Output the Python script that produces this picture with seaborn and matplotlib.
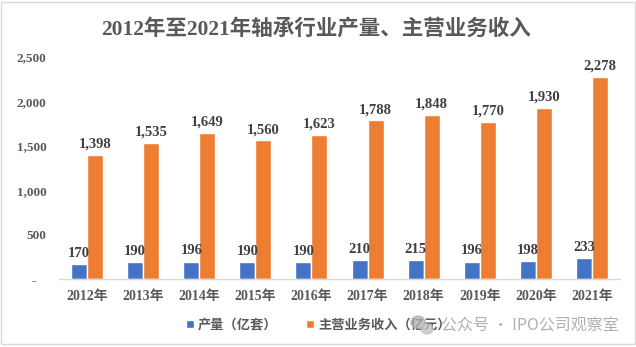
import matplotlib
matplotlib.use("Agg")
import matplotlib.pyplot as plt
import matplotlib.ticker as mticker
from matplotlib.patches import Rectangle, Ellipse
import numpy as np
import pandas as pd
import seaborn as sns

years = ["2012年", "2013年", "2014年", "2015年", "2016年",
         "2017年", "2018年", "2019年", "2020年", "2021年"]
output_vol = [170, 190, 196, 190, 190, 210, 215, 196, 198, 233]        # 产量（亿套）
revenue = [1398, 1535, 1649, 1560, 1623, 1788, 1848, 1770, 1930, 2278]  # 主营业务收入（亿元）
series_names = ["产量（亿套）", "主营业务收入（亿元）"]
colors = ["#4472C4", "#ED7D31"]
title = "2012年至2021年轴承行业产量、主营业务收入"
watermark = "公众号 · IPO公司观察室"

df = pd.DataFrame({
    "year": years * 2,
    "value": output_vol + revenue,
    "series": [series_names[0]] * len(years) + [series_names[1]] * len(years),
})

sns.set_theme(style="white")
plt.rcParams["font.family"] = ["Liberation Serif", "Noto Sans CJK SC"]
plt.rcParams["font.weight"] = "bold"
text_color = "#595959"

fig = plt.figure(figsize=(6.36, 3.47), dpi=100)
fig.patch.set_facecolor("white")
ax = fig.add_axes([59 / 636, 1 - 279 / 347, (620 - 59) / 636, (279 - 57) / 347])

sns.barplot(data=df, x="year", y="value", hue="series", palette=colors,
            width=32 / 56, saturation=1, ax=ax, legend=True)

for cont in ax.containers:
    ax.bar_label(cont, labels=[f"{v:,.0f}" for v in cont.datavalues], padding=3,
                 fontsize=10.5, fontweight="bold", color="#404040")

ax.set_ylim(0, 2500)
ax.set_xlim(-0.5, len(years) - 0.5)
ax.yaxis.set_major_locator(mticker.MultipleLocator(500))
ax.yaxis.set_major_formatter(mticker.FuncFormatter(
    lambda v, p: "-   " if v == 0 else f"{v:,.0f}"))
ax.set_xlabel("")
ax.set_ylabel("")

for s in ["top", "right", "left"]:
    ax.spines[s].set_visible(False)
ax.spines["bottom"].set_color("#d9d9d9")
ax.spines["bottom"].set_linewidth(1)

ax.set_xticks(np.arange(-0.5, len(years)), minor=True)
ax.tick_params(axis="x", which="major", length=0, pad=8, labelsize=10, labelcolor=text_color)
ax.tick_params(axis="x", which="minor", length=5, color="#d9d9d9", width=1, direction="out")
ax.tick_params(axis="y", length=0, pad=9, labelsize=9.5, labelcolor=text_color)
for lbl in ax.get_xticklabels() + ax.get_yticklabels():
    lbl.set_fontweight("bold")

sns.move_legend(ax, "center", bbox_to_anchor=(318 / 636, 1 - 325 / 347),
                bbox_transform=fig.transFigure, ncol=2, frameon=False, title=None,
                fontsize=9.5, handlelength=0.6, handleheight=0.6, handletextpad=0.3,
                columnspacing=2.2)
for t in ax.get_legend().get_texts():
    t.set_color(text_color)
    t.set_fontweight("bold")

fig.text(316 / 636, 1 - 29 / 347, title, ha="center", va="center",
         fontsize=15.5, fontweight="bold", color=text_color)

# watermark
fig.add_artist(Ellipse((418 / 636, 1 - 322 / 347), 14 / 636, 12 / 347,
                       transform=fig.transFigure, color="#b0b0b0", alpha=0.75))
fig.add_artist(Ellipse((427 / 636, 1 - 329 / 347), 12 / 636, 10 / 347,
                       transform=fig.transFigure, color="#c0c0c0", alpha=0.75))
fig.text(619 / 636, 1 - 326 / 347, watermark, ha="right", va="center",
         fontsize=11.5, color="#a8a8a8", family=["Noto Sans CJK SC", "DejaVu Sans"],
         fontweight="normal", alpha=0.9)

fig.add_artist(Rectangle((0.002, 0.01), 0.996, 0.985, transform=fig.transFigure,
                         fill=False, edgecolor="#d9d9d9", linewidth=1))

fig.savefig("out.png", dpi=100, facecolor="white")
